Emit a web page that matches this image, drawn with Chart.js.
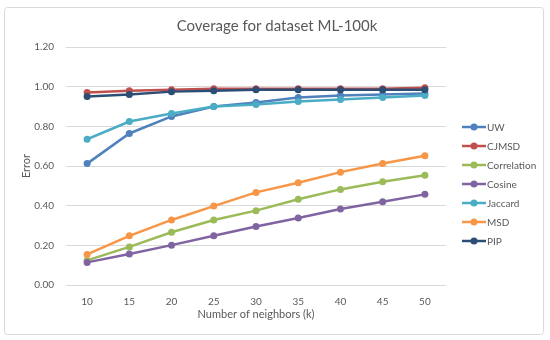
<!DOCTYPE html>
<html>
<head>
<meta charset="utf-8">
<script src="https://cdn.jsdelivr.net/npm/chart.js@4/dist/chart.umd.min.js"></script>
<style>
  html, body { margin: 0; padding: 0; background: #fff; }
  #wrap { width: 550px; height: 340px; position: relative; }
</style>
</head>
<body>
<div id="wrap"><canvas id="myChart" width="550" height="340"></canvas></div>
<script>
// ---- données ----
const neighbors = ['10', '15', '20', '25', '30', '35', '40', '45', '50'];
const seriesNames = ['UW', 'CJMSD', 'Correlation', 'Cosine', 'Jaccard', 'MSD', 'PIP'];
const seriesColors = ['#4F81BD', '#C0504D', '#9BBB59', '#8064A2', '#4BACC6', '#F79646', '#2C4D75'];
const uw          = [0.612, 0.764, 0.850, 0.900, 0.920, 0.945, 0.955, 0.960, 0.965];
const cjmsd       = [0.970, 0.980, 0.985, 0.990, 0.990, 0.990, 0.990, 0.990, 0.995];
const correlation = [0.124, 0.192, 0.266, 0.328, 0.375, 0.432, 0.482, 0.521, 0.553];
const cosine      = [0.114, 0.156, 0.201, 0.248, 0.295, 0.338, 0.383, 0.420, 0.457];
const jaccard     = [0.735, 0.824, 0.865, 0.900, 0.910, 0.925, 0.935, 0.945, 0.955];
const msd         = [0.154, 0.248, 0.328, 0.398, 0.467, 0.516, 0.569, 0.613, 0.652];
const pip         = [0.950, 0.960, 0.975, 0.980, 0.985, 0.985, 0.985, 0.985, 0.985];
const seriesValues = [uw, cjmsd, correlation, cosine, jaccard, msd, pip];

const FONT = 'Lato, "Open Sans", sans-serif';
const GREY = '#595959';

// cadre + titre + légende dessinés à la main
const decor = {
    id: 'decor',
    beforeDraw(chart) {
        const ctx = chart.ctx;
        ctx.save();
        ctx.fillStyle = '#fff';
        ctx.fillRect(0, 0, chart.width, chart.height);
        ctx.strokeStyle = '#d9d9d9';
        ctx.lineWidth = 1;
        ctx.beginPath();
        ctx.roundRect(4.5, 7.5, 539, 327, 3);
        ctx.stroke();
        ctx.restore();
    },
    afterDraw(chart) {
        const ctx = chart.ctx;
        ctx.save();
        ctx.fillStyle = GREY;
        ctx.font = '15px ' + FONT;
        ctx.textAlign = 'center';
        ctx.textBaseline = 'middle';
        ctx.fillText('Coverage for dataset ML-100k', 277, 26);

        ctx.font = '10px ' + FONT;
        ctx.textAlign = 'left';
        chart.data.datasets.forEach((ds, i) => {
            const y = 127 + i * 19;
            ctx.strokeStyle = ds.borderColor;
            ctx.lineWidth = 2.5;
            ctx.beginPath();
            ctx.moveTo(462, y);
            ctx.lineTo(486, y);
            ctx.stroke();
            ctx.fillStyle = ds.borderColor;
            ctx.beginPath();
            ctx.arc(474, y, 3.5, 0, Math.PI * 2);
            ctx.fill();
            ctx.fillStyle = GREY;
            ctx.fillText(ds.label, 487, y + 1);
        });
        ctx.restore();
    }
};

const datasets = seriesNames.map((name, i) => ({
    label: name,
    data: seriesValues[i],
    borderColor: seriesColors[i],
    backgroundColor: seriesColors[i],
    borderWidth: 2.5,
    pointRadius: 3.5,
    pointHoverRadius: 3.5,
    pointBorderWidth: 0,
    tension: 0,
    order: seriesNames.length - i
}));

new Chart(document.getElementById('myChart'), {
    type: 'line',
    data: { labels: neighbors, datasets: datasets },
    plugins: [decor],
    options: {
        responsive: false,
        animation: false,
        devicePixelRatio: 1,
        layout: { padding: { top: 47, right: 104, bottom: 19, left: 20 } },
        plugins: {
            legend: { display: false },
            title: { display: false },
            tooltip: { enabled: false }
        },
        scales: {
            x: {
                offset: true,
                grid: { display: false },
                border: { display: false },
                ticks: { color: GREY, font: { family: FONT, size: 10 }, padding: 3, maxRotation: 0 },
                title: { display: true, text: 'Number of neighbors (k)', color: GREY, font: { family: FONT, size: 11 }, padding: 0 },
                afterFit(scale) { scale.height = 36; }
            },
            y: {
                min: 0,
                max: 1.2,
                ticks: {
                    stepSize: 0.2,
                    color: GREY,
                    font: { family: FONT, size: 10 },
                    padding: 12,
                    callback: v => v.toFixed(2)
                },
                grid: { color: '#d9d9d9', drawTicks: false, lineWidth: 1 },
                border: { display: false },
                title: { display: true, text: 'Error', color: GREY, font: { family: FONT, size: 11 }, padding: 0 },
                afterFit(scale) { scale.width = 46; }
            }
        }
    }
});
</script>
</body>
</html>
